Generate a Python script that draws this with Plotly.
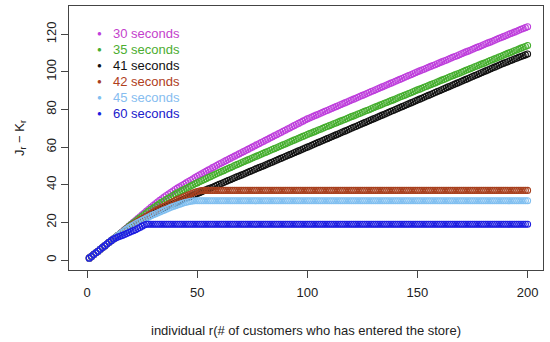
import plotly.graph_objects as go

# ---- data ----
series_names = ["30 seconds", "35 seconds", "41 seconds", "42 seconds", "45 seconds", "60 seconds"]
marker_colors = ["#BE3FDC", "#45AE2E", "#111111", "#A8401E", "#80BFF0", "#1C1CE0"]
text_colors = ["#C43FCC", "#4CAD30", "#111111", "#B0401C", "#86BDF0", "#2020CC"]

y_30s = [
    1.0, 1.9, 2.9, 3.8, 4.7, 5.7, 6.6, 7.5, 8.5, 9.4, 10.3, 11.2,
    12.1, 13.0, 14.0, 15.0, 16.0, 17.0, 18.0, 19.0,
    20.0, 21.0, 22.0, 23.0, 24.0, 25.0, 26.0, 27.0, 28.0, 29.0,
    29.9, 30.8, 31.7, 32.6, 33.5, 34.3, 35.1, 35.9, 36.7, 37.5,
    38.2, 38.9, 39.6, 40.3, 41.0, 41.7, 42.4, 43.1, 43.8, 44.5,
    45.2, 45.8, 46.5, 47.1, 47.8, 48.4, 49.1, 49.7, 50.4, 51.0,
    51.6, 52.2, 52.8, 53.4, 54.0, 54.6, 55.2, 55.8, 56.4, 57.0,
    57.6, 58.2, 58.8, 59.4, 60.0, 60.6, 61.2, 61.8, 62.4, 63.0,
    63.6, 64.2, 64.8, 65.4, 66.0, 66.6, 67.2, 67.8, 68.4, 69.0,
    69.6, 70.2, 70.8, 71.4, 72.0, 72.6, 73.2, 73.8, 74.4, 75.0,
    75.5, 76.0, 76.5, 77.0, 77.5, 78.0, 78.5, 79.0, 79.5, 80.0,
    80.5, 81.0, 81.5, 82.0, 82.5, 83.0, 83.5, 84.0, 84.5, 85.0,
    85.5, 86.0, 86.5, 87.0, 87.5, 88.0, 88.5, 89.0, 89.5, 90.0,
    90.5, 91.0, 91.5, 92.0, 92.5, 93.0, 93.5, 94.0, 94.5, 95.0,
    95.5, 96.0, 96.5, 97.0, 97.5, 98.0, 98.5, 99.0, 99.5, 100.0,
    100.5, 101.0, 101.4, 101.9, 102.4, 102.9, 103.4, 103.8, 104.3, 104.8,
    105.3, 105.8, 106.2, 106.7, 107.2, 107.7, 108.2, 108.6, 109.1, 109.6,
    110.1, 110.6, 111.0, 111.5, 112.0, 112.5, 113.0, 113.4, 113.9, 114.4,
    114.9, 115.4, 115.8, 116.3, 116.8, 117.3, 117.8, 118.2, 118.7, 119.2,
    119.7, 120.2, 120.6, 121.1, 121.6, 122.1, 122.6, 123.0, 123.5, 124.0,
]

y_35s = [
    1.0, 1.9, 2.9, 3.8, 4.7, 5.7, 6.6, 7.5, 8.5, 9.4, 10.3, 11.2,
    12.1, 13.0, 13.9, 14.9, 15.9, 16.9, 17.9, 18.8,
    19.7, 20.6, 21.5, 22.4, 23.3, 24.2, 25.1, 26.0, 26.8, 27.6,
    28.4, 29.2, 30.0, 30.8, 31.5, 32.2, 32.9, 33.6, 34.3, 35.0,
    35.7, 36.3, 36.9, 37.5, 38.1, 38.7, 39.3, 39.9, 40.5, 41.0,
    41.6, 42.1, 42.7, 43.2, 43.8, 44.3, 44.9, 45.4, 46.0, 46.5,
    47.0, 47.5, 48.1, 48.6, 49.1, 49.6, 50.2, 50.7, 51.2, 51.7,
    52.2, 52.7, 53.2, 53.7, 54.2, 54.7, 55.2, 55.7, 56.2, 56.7,
    57.2, 57.7, 58.2, 58.7, 59.2, 59.7, 60.2, 60.7, 61.2, 61.7,
    62.2, 62.7, 63.2, 63.7, 64.2, 64.7, 65.2, 65.7, 66.2, 66.7,
    67.2, 67.6, 68.1, 68.6, 69.1, 69.5, 70.0, 70.5, 71.0, 71.4,
    71.9, 72.4, 72.8, 73.3, 73.8, 74.3, 74.7, 75.2, 75.7, 76.2,
    76.6, 77.1, 77.6, 78.0, 78.5, 79.0, 79.5, 79.9, 80.4, 80.9,
    81.4, 81.8, 82.3, 82.8, 83.3, 83.7, 84.2, 84.7, 85.1, 85.6,
    86.1, 86.6, 87.0, 87.5, 88.0, 88.5, 88.9, 89.4, 89.9, 90.4,
    90.8, 91.3, 91.8, 92.2, 92.7, 93.2, 93.7, 94.1, 94.6, 95.1,
    95.6, 96.0, 96.5, 97.0, 97.5, 97.9, 98.4, 98.9, 99.3, 99.8,
    100.3, 100.8, 101.2, 101.7, 102.2, 102.7, 103.1, 103.6, 104.1, 104.5,
    105.0, 105.5, 106.0, 106.4, 106.9, 107.4, 107.9, 108.3, 108.8, 109.3,
    109.8, 110.2, 110.7, 111.2, 111.6, 112.1, 112.6, 113.1, 113.5, 114.0,
]

y_41s = [
    1.0, 1.9, 2.9, 3.8, 4.7, 5.7, 6.6, 7.5, 8.5, 9.4, 10.3, 11.2,
    12.1, 13.0, 13.9, 14.8, 15.7, 16.5, 17.3, 18.1,
    18.8, 19.5, 20.2, 20.9, 21.6, 22.3, 23.0, 23.6, 24.2, 24.8,
    25.4, 26.0, 26.6, 27.2, 27.8, 28.3, 28.8, 29.3, 29.8, 30.3,
    30.8, 31.3, 31.8, 32.3, 32.8, 33.3, 33.8, 34.3, 34.8, 35.3,
    35.8, 36.3, 36.8, 37.3, 37.8, 38.2, 38.7, 39.2, 39.7, 40.2,
    40.7, 41.2, 41.7, 42.2, 42.7, 43.2, 43.7, 44.2, 44.6, 45.1,
    45.6, 46.1, 46.6, 47.1, 47.6, 48.1, 48.6, 49.1, 49.6, 50.0,
    50.5, 51.0, 51.5, 52.0, 52.5, 53.0, 53.5, 54.0, 54.5, 55.0,
    55.5, 56.0, 56.5, 57.0, 57.5, 58.0, 58.5, 59.0, 59.5, 60.0,
    60.5, 61.0, 61.5, 62.0, 62.5, 63.0, 63.5, 64.0, 64.5, 65.0,
    65.5, 66.0, 66.5, 67.0, 67.5, 68.0, 68.5, 69.0, 69.5, 70.0,
    70.5, 71.0, 71.5, 72.0, 72.5, 73.0, 73.5, 74.0, 74.5, 75.0,
    75.5, 76.0, 76.5, 77.0, 77.5, 78.0, 78.5, 79.0, 79.5, 80.0,
    80.5, 81.0, 81.5, 82.0, 82.5, 83.0, 83.5, 84.0, 84.5, 85.0,
    85.5, 86.0, 86.5, 87.0, 87.5, 88.0, 88.5, 89.0, 89.5, 90.0,
    90.5, 91.0, 91.5, 92.0, 92.5, 93.0, 93.5, 94.0, 94.5, 95.0,
    95.5, 96.0, 96.5, 97.0, 97.5, 98.0, 98.5, 99.0, 99.5, 100.0,
    100.5, 101.0, 101.5, 102.0, 102.5, 103.0, 103.5, 104.0, 104.5, 105.0,
    105.4, 105.9, 106.3, 106.8, 107.2, 107.7, 108.1, 108.6, 109.0, 109.5,
]

y_42s = [
    1.0, 1.9, 2.9, 3.8, 4.7, 5.7, 6.6, 7.5, 8.5, 9.4, 10.3, 11.2,
    12.1, 13.0, 13.9, 14.8, 15.7, 16.6, 17.4, 18.2,
    19.0, 19.8, 20.5, 21.2, 21.9, 22.6, 23.3, 24.0, 24.7, 25.4,
    26.1, 26.8, 27.4, 28.0, 28.6, 29.2, 29.8, 30.4, 31.0, 31.6,
    32.1, 32.6, 33.1, 33.6, 34.1, 34.6, 35.1, 35.6, 36.0, 36.4,
    36.7, 36.9, 37.0, 37.0, 37.0, 37.0, 37.0, 37.0, 37.0, 37.0,
    37.0, 37.0, 37.0, 37.0, 37.0, 37.0, 37.0, 37.0, 37.0, 37.0,
    37.0, 37.0, 37.0, 37.0, 37.0, 37.0, 37.0, 37.0, 37.0, 37.0,
    37.0, 37.0, 37.0, 37.0, 37.0, 37.0, 37.0, 37.0, 37.0, 37.0,
    37.0, 37.0, 37.0, 37.0, 37.0, 37.0, 37.0, 37.0, 37.0, 37.0,
    37.0, 37.0, 37.0, 37.0, 37.0, 37.0, 37.0, 37.0, 37.0, 37.0,
    37.0, 37.0, 37.0, 37.0, 37.0, 37.0, 37.0, 37.0, 37.0, 37.0,
    37.0, 37.0, 37.0, 37.0, 37.0, 37.0, 37.0, 37.0, 37.0, 37.0,
    37.0, 37.0, 37.0, 37.0, 37.0, 37.0, 37.0, 37.0, 37.0, 37.0,
    37.0, 37.0, 37.0, 37.0, 37.0, 37.0, 37.0, 37.0, 37.0, 37.0,
    37.0, 37.0, 37.0, 37.0, 37.0, 37.0, 37.0, 37.0, 37.0, 37.0,
    37.0, 37.0, 37.0, 37.0, 37.0, 37.0, 37.0, 37.0, 37.0, 37.0,
    37.0, 37.0, 37.0, 37.0, 37.0, 37.0, 37.0, 37.0, 37.0, 37.0,
    37.0, 37.0, 37.0, 37.0, 37.0, 37.0, 37.0, 37.0, 37.0, 37.0,
    37.0, 37.0, 37.0, 37.0, 37.0, 37.0, 37.0, 37.0, 37.0, 37.0,
]

y_45s = [
    1.0, 1.9, 2.9, 3.8, 4.7, 5.7, 6.6, 7.5, 8.5, 9.4, 10.3, 11.2,
    12.1, 13.0, 13.9, 14.8, 15.6, 16.4, 17.2, 17.9,
    18.6, 19.3, 19.9, 20.5, 21.1, 21.7, 22.3, 22.9, 23.5, 24.0,
    24.5, 25.0, 25.5, 26.0, 26.5, 27.0, 27.5, 28.0, 28.4, 28.8,
    29.2, 29.6, 30.0, 30.4, 30.7, 31.0, 31.2, 31.4, 31.5, 31.5,
    31.5, 31.5, 31.5, 31.5, 31.5, 31.5, 31.5, 31.5, 31.5, 31.5,
    31.5, 31.5, 31.5, 31.5, 31.5, 31.5, 31.5, 31.5, 31.5, 31.5,
    31.5, 31.5, 31.5, 31.5, 31.5, 31.5, 31.5, 31.5, 31.5, 31.5,
    31.5, 31.5, 31.5, 31.5, 31.5, 31.5, 31.5, 31.5, 31.5, 31.5,
    31.5, 31.5, 31.5, 31.5, 31.5, 31.5, 31.5, 31.5, 31.5, 31.5,
    31.5, 31.5, 31.5, 31.5, 31.5, 31.5, 31.5, 31.5, 31.5, 31.5,
    31.5, 31.5, 31.5, 31.5, 31.5, 31.5, 31.5, 31.5, 31.5, 31.5,
    31.5, 31.5, 31.5, 31.5, 31.5, 31.5, 31.5, 31.5, 31.5, 31.5,
    31.5, 31.5, 31.5, 31.5, 31.5, 31.5, 31.5, 31.5, 31.5, 31.5,
    31.5, 31.5, 31.5, 31.5, 31.5, 31.5, 31.5, 31.5, 31.5, 31.5,
    31.5, 31.5, 31.5, 31.5, 31.5, 31.5, 31.5, 31.5, 31.5, 31.5,
    31.5, 31.5, 31.5, 31.5, 31.5, 31.5, 31.5, 31.5, 31.5, 31.5,
    31.5, 31.5, 31.5, 31.5, 31.5, 31.5, 31.5, 31.5, 31.5, 31.5,
    31.5, 31.5, 31.5, 31.5, 31.5, 31.5, 31.5, 31.5, 31.5, 31.5,
    31.5, 31.5, 31.5, 31.5, 31.5, 31.5, 31.5, 31.5, 31.5, 31.5,
]

y_60s = [
    1.0, 1.9, 2.9, 3.8, 4.7, 5.7, 6.6, 7.5, 8.5, 9.4, 10.3, 11.2,
    11.7, 12.2, 12.6, 13.1, 13.6, 14.1, 14.6, 15.1,
    15.6, 16.1, 16.7, 17.3, 18.0, 18.6, 19.0, 19.0, 19.0, 19.0,
    19.0, 19.0, 19.0, 19.0, 19.0, 19.0, 19.0, 19.0, 19.0, 19.0,
    19.0, 19.0, 19.0, 19.0, 19.0, 19.0, 19.0, 19.0, 19.0, 19.0,
    19.0, 19.0, 19.0, 19.0, 19.0, 19.0, 19.0, 19.0, 19.0, 19.0,
    19.0, 19.0, 19.0, 19.0, 19.0, 19.0, 19.0, 19.0, 19.0, 19.0,
    19.0, 19.0, 19.0, 19.0, 19.0, 19.0, 19.0, 19.0, 19.0, 19.0,
    19.0, 19.0, 19.0, 19.0, 19.0, 19.0, 19.0, 19.0, 19.0, 19.0,
    19.0, 19.0, 19.0, 19.0, 19.0, 19.0, 19.0, 19.0, 19.0, 19.0,
    19.0, 19.0, 19.0, 19.0, 19.0, 19.0, 19.0, 19.0, 19.0, 19.0,
    19.0, 19.0, 19.0, 19.0, 19.0, 19.0, 19.0, 19.0, 19.0, 19.0,
    19.0, 19.0, 19.0, 19.0, 19.0, 19.0, 19.0, 19.0, 19.0, 19.0,
    19.0, 19.0, 19.0, 19.0, 19.0, 19.0, 19.0, 19.0, 19.0, 19.0,
    19.0, 19.0, 19.0, 19.0, 19.0, 19.0, 19.0, 19.0, 19.0, 19.0,
    19.0, 19.0, 19.0, 19.0, 19.0, 19.0, 19.0, 19.0, 19.0, 19.0,
    19.0, 19.0, 19.0, 19.0, 19.0, 19.0, 19.0, 19.0, 19.0, 19.0,
    19.0, 19.0, 19.0, 19.0, 19.0, 19.0, 19.0, 19.0, 19.0, 19.0,
    19.0, 19.0, 19.0, 19.0, 19.0, 19.0, 19.0, 19.0, 19.0, 19.0,
    19.0, 19.0, 19.0, 19.0, 19.0, 19.0, 19.0, 19.0, 19.0, 19.0,
]

x_ticks = [0, 50, 100, 150, 200]
y_ticks = [0, 20, 40, 60, 80, 100, 120]

all_series = [y_30s, y_35s, y_41s, y_42s, y_45s, y_60s]

# ---- figure ----
FONT = "Liberation Sans, Arial, sans-serif"
fig = go.Figure()
for name, ys, mc in zip(series_names, all_series, marker_colors):
    fig.add_trace(go.Scatter(
        x=list(range(1, len(ys) + 1)), y=ys, mode="markers", name=name,
        marker=dict(symbol="circle-open", size=6, color=mc, line=dict(width=1.1, color=mc)),
        showlegend=False,
    ))

# legend (top-left inside plot area, R style: filled dot + coloured text)
for i, (name, mc, tc) in enumerate(zip(series_names, marker_colors, text_colors)):
    ypos = 0.895 - i * 0.0605
    fig.add_annotation(x=0.064, y=ypos, xref="paper", yref="paper", text="●",
                       showarrow=False, xanchor="center", yanchor="middle",
                       font=dict(size=8, color=mc, family=FONT))
    fig.add_annotation(x=0.088, y=ypos, xref="paper", yref="paper", text=name,
                       showarrow=False, xanchor="left", yanchor="middle",
                       font=dict(size=13, color=tc, family=FONT))

axis_common = dict(
    showline=True, mirror=True, linecolor="#444444", linewidth=1,
    showgrid=False, zeroline=False, ticks="outside", ticklen=7,
    tickcolor="#444444", tickwidth=1, tickfont=dict(size=13, color="#222222", family=FONT),
    automargin=False,
)
fig.update_xaxes(range=[-8.2, 207.0], tickvals=x_ticks, ticktext=[str(v) for v in x_ticks],
                 ticklabelstandoff=3,
                 title=dict(text="individual r(# of customers who has entered the store)",
                            font=dict(size=13, color="#222222", family=FONT), standoff=27),
                 **axis_common)
fig.update_yaxes(range=[-5.3, 135.0], tickvals=y_ticks, ticktext=[str(v) for v in y_ticks],
                 tickangle=-90, ticklabelstandoff=0,
                 title=dict(text="J<sub>r</sub> − K<sub>r</sub>",
                            font=dict(size=13, color="#222222", family=FONT), standoff=16),
                 **axis_common)
fig.update_layout(
    width=550, height=342, margin=dict(l=69, r=7, t=6, b=72),
    paper_bgcolor="white", plot_bgcolor="white", showlegend=False,
    font=dict(family=FONT),
)
fig.write_html("out.html", config={"displayModeBar": False},
               post_script="document.body.style.margin='0';document.body.style.padding='0';")
